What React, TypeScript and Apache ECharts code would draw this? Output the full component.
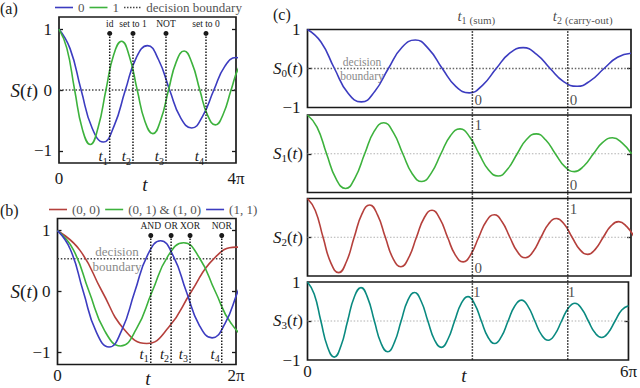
import React, { useEffect, useRef } from 'react';
import * as echarts from 'echarts';

// time values are in units of pi
const T1 = [0, 0.25, 0.5, 0.75, 1, 1.25, 1.5, 1.75, 2, 2.25, 2.5, 2.75, 3, 3.25, 3.5, 3.75, 4, 4.25, 4.5, 4.75, 5, 5.25, 5.5, 5.75, 6];
const W1 = [1, 0.68, 0, -0.629, -0.855, -0.581, 0, 0.537, 0.73, 0.497, 0, -0.459, -0.624, -0.424, 0, 0.392, 0.534, 0.363, 0, -0.335, -0.456, -0.31, 0, 0.287, 0.39];

const T2 = [0, 0.1768, 0.3536, 0.5303, 0.7071, 0.8839, 1.0607, 1.2374, 1.4142, 1.591, 1.7678, 1.9445, 2.1213, 2.2981, 2.4749, 2.6517, 2.8284, 3.0052, 3.182, 3.3588, 3.5355, 3.7123, 3.8891, 4.0659, 4.2426, 4.4194, 4.5962, 4.773, 4.9497, 5.1265, 5.3033, 5.4801, 5.6569, 5.8336, 6.0104];
const W2 = [1, 0.688, 0, -0.651, -0.895, -0.615, 0, 0.582, 0.801, 0.551, 0, -0.521, -0.717, -0.493, 0, 0.466, 0.641, 0.441, 0, -0.417, -0.574, -0.395, 0, 0.373, 0.514, 0.353, 0, -0.334, -0.46, -0.316, 0, 0.299, 0.411, 0.283, 0];

const T3 = [0, 0.1443, 0.2887, 0.433, 0.5774, 0.7217, 0.866, 1.0104, 1.1547, 1.299, 1.4434, 1.5877, 1.7321, 1.8764, 2.0207, 2.1651, 2.3094, 2.4537, 2.5981, 2.7424, 2.8868, 3.0311, 3.1754, 3.3198, 3.4641, 3.6084, 3.7528, 3.8971, 4.0415, 4.1858, 4.3301, 4.4745, 4.6188, 4.7631, 4.9075, 5.0518, 5.1962, 5.3405, 5.4848, 5.6292, 5.7735, 5.9178, 6.0622];
const W3 = [1, 0.691, 0, -0.661, -0.913, -0.631, 0, 0.603, 0.834, 0.577, 0, -0.551, -0.762, -0.527, 0, 0.503, 0.696, 0.481, 0, -0.46, -0.635, -0.439, 0, 0.42, 0.58, 0.401, 0, -0.383, -0.53, -0.366, 0, 0.35, 0.484, 0.335, 0, -0.32, -0.442, -0.306, 0, 0.292, 0.404, 0.279, 0];

const T4 = [0, 0.125, 0.25, 0.375, 0.5, 0.625, 0.75, 0.875, 1, 1.125, 1.25, 1.375, 1.5, 1.625, 1.75, 1.875, 2, 2.125, 2.25, 2.375, 2.5, 2.625, 2.75, 2.875, 3, 3.125, 3.25, 3.375, 3.5, 3.625, 3.75, 3.875, 4, 4.125, 4.25, 4.375, 4.5, 4.625, 4.75, 4.875, 5, 5.125, 5.25, 5.375, 5.5, 5.625, 5.75, 5.875, 6];
const W4 = [1, 0.693, 0, -0.667, -0.925, -0.641, 0, 0.616, 0.855, 0.593, 0, -0.57, -0.79, -0.548, 0, 0.527, 0.73, 0.506, 0, -0.487, -0.675, -0.468, 0, 0.45, 0.624, 0.433, 0, -0.416, -0.577, -0.4, 0, 0.385, 0.534, 0.37, 0, -0.356, -0.493, -0.342, 0, 0.329, 0.456, 0.316, 0, -0.304, -0.422, -0.292, 0, 0.281, 0.39];

const opsA = ['id', 'set to 1', 'NOT', 'set to 0'];
const opsATimes = [1.146, 1.672, 2.418, 3.322];
const opsB = ['AND', 'OR', 'XOR', 'NOR'];
const opsBTimes = [1.045, 1.273, 1.485, 1.84];
const readTimes = [3.058, 4.827];
const readNames = ['sum', 'carry-out'];
const sumBits = ['0', '1', '0', '1'];
const carryBits = ['0', '0', '1', '1'];
const boundaryA = 0;
const boundaryB = 0.54;
const legendA = ['0', '1', 'decision boundary'];
const legendB = ['(0, 0)', '(0, 1) & (1, 0)', '(1, 1)'];

const SERIF = 'Liberation Serif';
const BLUE = '#3c3cc0';
const GREEN = '#3db23d';
const RED = '#b5403c';
const TEAL = '#0a8a80';
const INK = '#1a1a1a';

const LINE_ICON = 'path://M0,0h18v1.6h-18z';
const DOT_ICON = 'path://M0,0h1.5v1.6h-1.5z M3,0h1.5v1.6h-1.5z M6,0h1.5v1.6h-1.5z M9,0h1.5v1.6h-1.5z M12,0h1.5v1.6h-1.5z M15,0h1.5v1.6h-1.5z';

const pts = (T: number[], V: number[]) => T.map((t, i) => [t, V[i]]);

const subRich = {
  t: { fontStyle: 'italic', fontSize: 15, lineHeight: 20, fontFamily: SERIF, color: INK },
  s: { fontSize: 10, lineHeight: 10, verticalAlign: 'bottom', fontFamily: SERIF, color: INK },
  p: { fontSize: 11, lineHeight: 17, verticalAlign: 'bottom', fontFamily: SERIF, color: INK },
};

function buildOption() {
  const grids = [
    { left: 59, top: 17, width: 177, height: 146 },
    { left: 57.5, top: 218.5, width: 178.5, height: 146 },
    { left: 307.5, top: 29.5, width: 323.5, height: 78 },
    { left: 307.5, top: 115, width: 323.5, height: 77.5 },
    { left: 307.5, top: 198.5, width: 323.5, height: 77.5 },
    { left: 307.5, top: 282, width: 323.5, height: 78 },
    { left: 307.5, top: 29.5, width: 323.5, height: 330.5 },
  ].map((g, i) => ({ ...g, show: i < 6, borderColor: INK, borderWidth: 1.7, containLabel: false }));

  const xMax = [4, 2, 6, 6, 6, 6, 6];
  const xLabelShow = [true, true, false, false, false, true, false];
  const xMargin = [7, 2, 3, 3, 3, 3, 3];
  const xAxis = xMax.map((mx, i) => ({
    gridIndex: i, type: 'value', min: 0, max: mx, show: i < 6,
    axisLine: { show: false }, axisTick: { show: false }, splitLine: { show: false },
    axisLabel: {
      show: xLabelShow[i], customValues: [0, mx], margin: xMargin[i],
      formatter: (v: number) => (v === 0 ? '0' : `${v}π`),
      fontFamily: SERIF, fontSize: 17, color: INK,
    },
  }));

  const yRange = [[-1.2, 1.2], [-1.2, 1.2], [-1, 1], [-1, 1], [-1, 1], [-1, 1], [0, 1]];
  const yLabels: number[][] = [[-1, 0, 1], [-1, 0, 1], [-1, 1], [], [], [-1, 1], []];
  const yTicks: number[][] = [[-1, 0, 1], [-1, 0, 1], [0], [0], [0], [0], []];
  const mkY = (i: number, pos: string, labels: boolean) => ({
    gridIndex: i, type: 'value', min: yRange[i][0], max: yRange[i][1], position: pos,
    show: i < 6,
    axisLine: { show: false }, splitLine: { show: false },
    axisTick: { show: yTicks[i].length > 0, inside: true, length: 4, customValues: yTicks[i], lineStyle: { color: INK, width: 1.3 } },
    axisLabel: {
      show: labels && yLabels[i].length > 0, customValues: yLabels[i], margin: 7,
      formatter: (v: number) => (v < 0 ? '−1' : `${v}`),
      fontFamily: SERIF, fontSize: 17, color: INK,
    },
  });
  const yAxis: any[] = [];
  for (let i = 0; i < 7; i++) yAxis.push(mkY(i, 'left', true));
  for (let i = 0; i < 6; i++) yAxis.push(mkY(i, 'right', false));

  const curve = (name: string | undefined, data: number[][], color: string, gi: number) => ({
    type: 'line', name, data, xAxisIndex: gi, yAxisIndex: gi, symbol: 'none', smooth: true,
    lineStyle: { color, width: 1.6 }, itemStyle: { color }, z: 4, silent: true,
  });
  const hline = (name: string | undefined, y: number, xmax: number, gi: number, color: string, width: number) => ({
    type: 'line', name, data: [[0, y], [xmax, y]], xAxisIndex: gi, yAxisIndex: gi, symbol: 'none',
    lineStyle: { color, width, type: [1.5, 1.8] }, itemStyle: { color }, z: 2, silent: true,
  });
  const opMarker = (t: number, label: string, idx: number, gi: number, top: number, bottom: number, tOffset: number) => ({
    type: 'line', xAxisIndex: gi, yAxisIndex: gi, silent: true, z: 5,
    lineStyle: { color: INK, width: 1.5, type: [1.5, 1.5] }, itemStyle: { color: INK },
    showSymbol: true,
    data: [
      {
        value: [t, top], symbol: 'circle', symbolSize: 5,
        label: { show: true, position: 'top', distance: 2, formatter: label, fontFamily: SERIF, fontSize: 9.5, color: INK },
      },
      {
        value: [t, bottom], symbol: 'circle', symbolSize: 0.1,
        label: { show: true, position: 'left', distance: 2, offset: [0, tOffset], formatter: `{t|t}{s|${idx + 1}}`, rich: subRich },
      },
    ],
  });

  const series: any[] = [];
  // panel (a)
  series.push(curve(legendA[0], pts(T1, W1), BLUE, 0));
  series.push(curve(legendA[1], pts(T2, W2), GREEN, 0));
  series.push(hline(legendA[2], boundaryA, 4, 0, '#444', 1.5));
  opsATimes.forEach((t, i) => series.push(opMarker(t, opsA[i], i, 0, 0.93, -1.2, -7)));
  // panel (b)
  series.push(curve(legendB[0], pts(T1, W1), RED, 1));
  series.push(curve(legendB[1], pts(T2, W2), GREEN, 1));
  series.push(curve(legendB[2], pts(T3, W3), BLUE, 1));
  series.push(hline(undefined, boundaryB, 2, 1, '#444', 1.5));
  opsBTimes.forEach((t, i) => series.push(opMarker(t, opsB[i], i, 1, 0.92, -1.2, -11)));
  // panel (c)
  const cCurves = [pts(T1, W1), pts(T2, W2), pts(T3, W3), pts(T4, W4)];
  const cColors = [BLUE, GREEN, RED, TEAL];
  cCurves.forEach((d, j) => {
    const gi = 2 + j;
    series.push(hline(undefined, 0, 6, gi, j === 0 ? '#666' : '#b0b0b0', j === 0 ? 1.4 : 1));
    series.push(curve(undefined, d, cColors[j], gi));
    const bits = [sumBits[j], carryBits[j]];
    series.push({
      type: 'scatter', xAxisIndex: gi, yAxisIndex: gi, symbolSize: 0, silent: true, z: 6,
      itemStyle: { color: INK },
      data: bits.map((b, k) => [readTimes[k], b === '1' ? 0.74 : -0.8, b]),
      label: {
        show: true, position: 'right', distance: 2, formatter: (p: any) => p.value[2],
        fontFamily: SERIF, fontSize: 15, color: INK,
      },
    });
  });
  readTimes.forEach((t) => {
    series.push({
      type: 'line', xAxisIndex: 6, yAxisIndex: 6, data: [[t, 0.995], [t, 0]], symbol: 'none', silent: true, z: 5,
      lineStyle: { color: INK, width: 1.5, type: [1.5, 1.5] }, itemStyle: { color: INK },
    });
  });
  series.push({
    type: 'scatter', xAxisIndex: 6, yAxisIndex: 6, symbolSize: 0, silent: true,
    itemStyle: { color: INK },
    data: readTimes.map((t, i) => [t, 1, i]),
    label: {
      show: true, position: 'top', distance: 4, align: 'left', offset: [-15, 0],
      formatter: (p: any) => `{t|t}{s|${p.value[2] + 1}} {p|(${readNames[p.value[2]]})}`,
      rich: subRich,
    },
  });

  const legendCommon = {
    itemWidth: 18, itemHeight: 1.6, itemGap: 5, padding: 0, selectedMode: false,
    textStyle: { fontFamily: SERIF, fontSize: 13, color: '#555' },
  };

  const txt = (text: string, x: number, y: number, size: number, opts: any = {}) => ({
    type: 'text', x, y, silent: true,
    style: {
      text, fontFamily: SERIF, fontSize: size, fill: INK, align: 'center', verticalAlign: 'middle', ...opts,
    },
  });
  const sRich = {
    i: { fontStyle: 'italic', fontFamily: SERIF, fontSize: 19, lineHeight: 22, fill: INK, color: INK },
    n: { fontFamily: SERIF, fontSize: 19, lineHeight: 22, fill: INK, color: INK },
  };
  const sRichC = {
    i: { fontStyle: 'italic', fontFamily: SERIF, fontSize: 17, lineHeight: 20, color: INK, fill: INK },
    n: { fontFamily: SERIF, fontSize: 17, lineHeight: 20, color: INK, fill: INK },
    s: { fontFamily: SERIF, fontSize: 11, lineHeight: 10, verticalAlign: 'bottom', color: INK, fill: INK },
  };
  const cMid = [68.5, 153.8, 237.2, 320.8];

  const graphic: any[] = [
    txt('(a)', 0, 8, 16, { align: 'left' }),
    txt('(b)', 0, 210, 16, { align: 'left' }),
    txt('(c)', 273, 14, 16, { align: 'left' }),
    txt('{i|S}{n|(}{i|t}{n|)}', 38, 90, 19, { align: 'right', rich: sRich }),
    txt('{i|S}{n|(}{i|t}{n|)}', 38, 291.5, 19, { align: 'right', rich: sRich }),
    txt('t', 145, 184, 19, { fontStyle: 'italic' }),
    txt('t', 148, 378, 19, { fontStyle: 'italic' }),
    txt('t', 464, 375, 19, { fontStyle: 'italic' }),
    txt('decision\nboundary', 362, 69, 11.5, { fill: '#8a8a8a', lineHeight: 14 }),
    txt('decision\nboundary', 117, 259, 13, { fill: '#8a8a8a', lineHeight: 15 }),
    ...cMid.map((y, j) => txt(`{i|S}{s|${j}}{n|(}{i|t}{n|)}`, 303, y, 17, { align: 'right', rich: sRichC })),
  ];

  return {
    animation: false,
    backgroundColor: '#ffffff',
    textStyle: { fontFamily: SERIF },
    grid: grids,
    xAxis,
    yAxis,
    legend: [
      {
        ...legendCommon, left: 55, top: 1,
        data: legendA.map((name, i) => ({ name, icon: i === 2 ? DOT_ICON : LINE_ICON })),
      },
      {
        ...legendCommon, left: 49, top: 203,
        data: legendB.map((name) => ({ name, icon: LINE_ICON })),
      },
    ],
    graphic,
    series,
  };
}

export default function App() {
  const ref = useRef<HTMLDivElement>(null);
  useEffect(() => {
    if (!ref.current) return;
    const chart = echarts.init(ref.current, null, { renderer: 'svg' });
    chart.setOption(buildOption() as any);
    return () => chart.dispose();
  }, []);
  return <div ref={ref} style={{ position: 'absolute', left: 0, top: 0, width: 640, height: 388 }} />;
}
